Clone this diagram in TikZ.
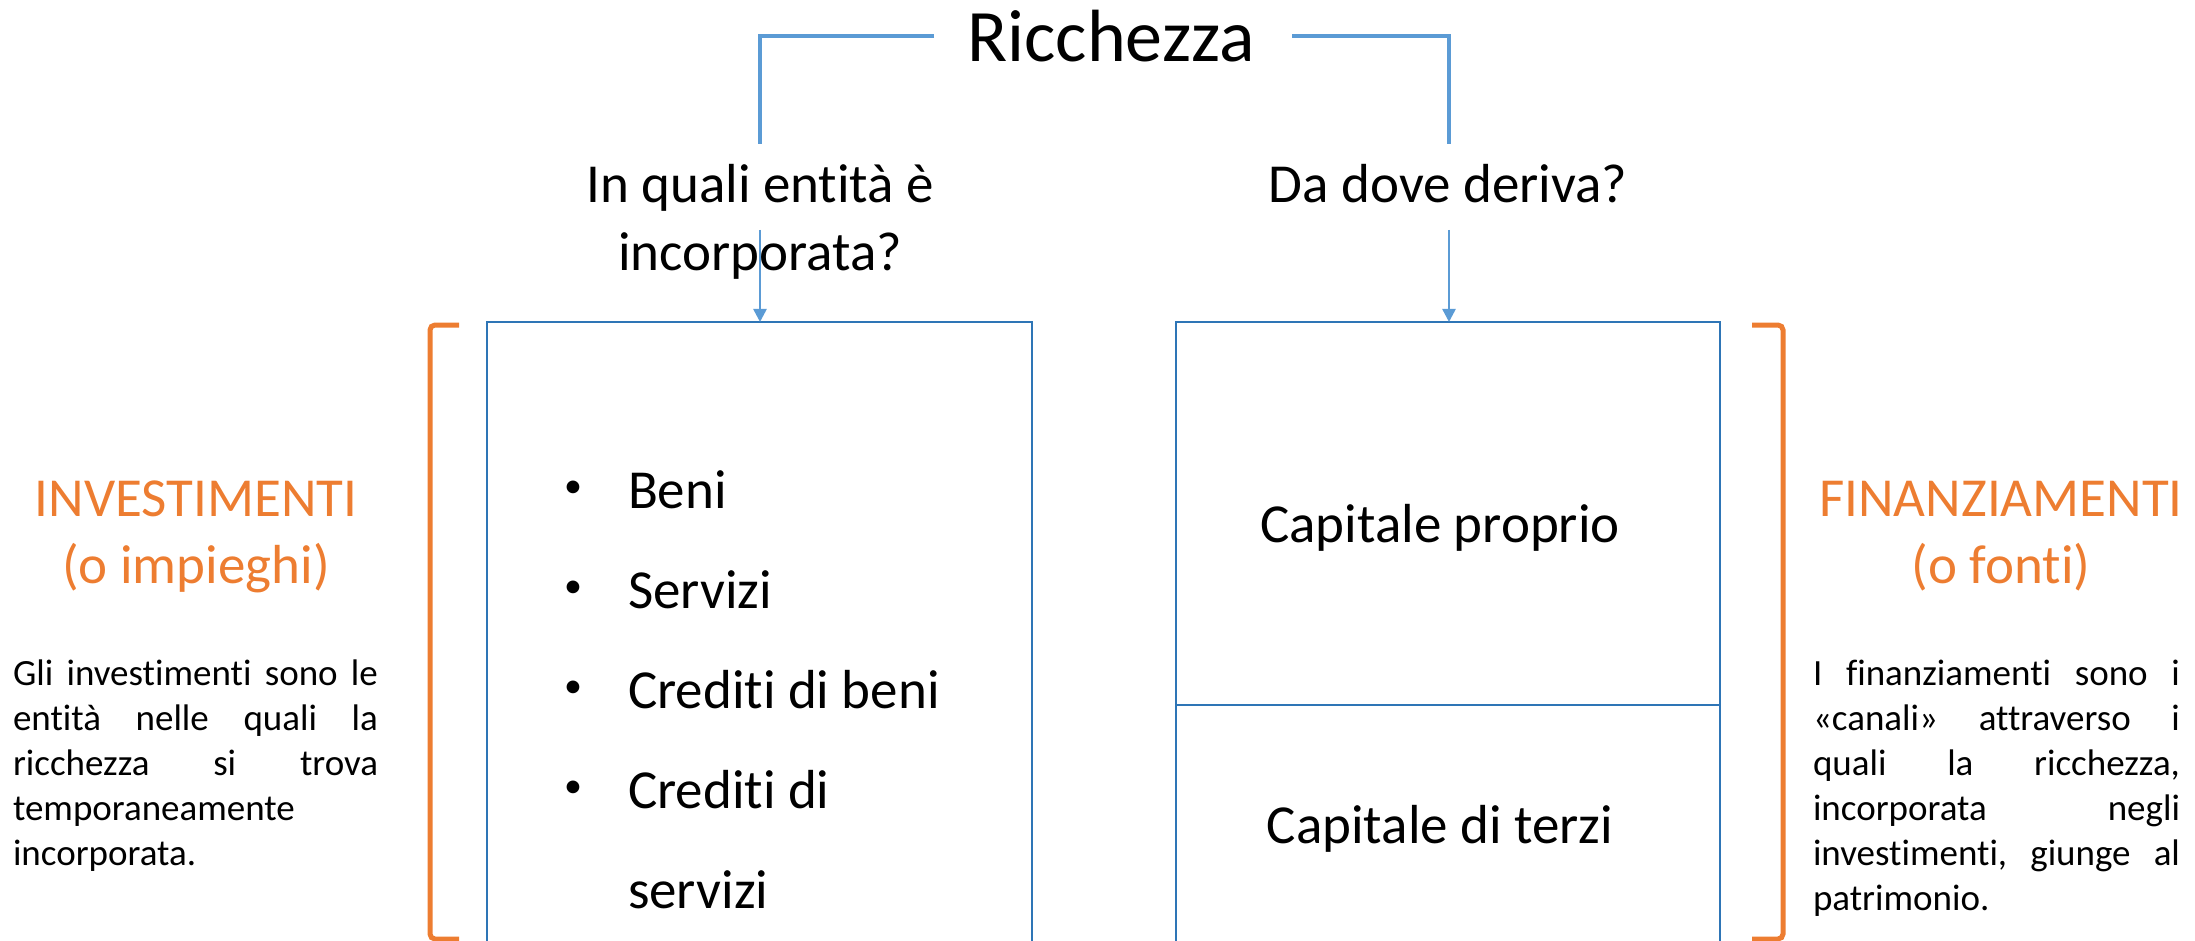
\documentclass[tikz,border=0pt]{standalone}
\usepackage{fontspec}
\setmainfont{Carlito}[Ligatures={NoCommon}]
\usetikzlibrary{arrows.meta}
\definecolor{connblue}{HTML}{5B9BD5}
\definecolor{boxblue}{HTML}{2E75B6}
\definecolor{brorange}{HTML}{ED7D31}
\newcommand\jgap{\hfill\ }
\newcommand\jline[2]{\leavevmode\hbox to #1{#2}}
\begin{document}
\begin{tikzpicture}[x=1pt,y=-1pt,
  txt/.style={inner sep=0pt,outer sep=0pt},
  bigfont/.style={font=\fontsize{74}{90}\selectfont},
  midfont/.style={font=\fontsize{55}{67}\selectfont},
  qfont/.style={font=\fontsize{55}{68}\selectfont},
  smallfont/.style={font=\fontsize{37}{45}\selectfont},
  bulletfont/.style={font=\fontsize{36}{40}\selectfont},
  conn/.style={draw=connblue,line width=4.5pt},
  arr/.style={draw=connblue,line width=2.5pt,-{Triangle[length=13pt,width=13pt]}},
  panel/.style={draw=boxblue,line width=2pt,inner sep=0pt,outer sep=0pt},
  bracket/.style={draw=brorange,line width=5pt,rounded corners=5pt},
  head/.style={txt,midfont,text=brorange,text width=420pt,align=flush center,anchor=base},
  bul/.style={txt,bulletfont,anchor=center}
]
\useasboundingbox (0,0) rectangle (2195,941);

% title and questions
\node[txt,bigfont,anchor=base] (ricc) at (1111,62) {Ricchezza};
\node[txt,qfont,anchor=base,text width=420pt,align=flush center] (q1) at (760,203) {In quali entità è\\incorporata?};
\node[txt,qfont,anchor=base] (q2) at (1448,203) {Da dove deriva?};

% boxes
\node[panel,minimum width=545pt,minimum height=700pt,anchor=north] (boxL) at (759.5,322) {};
\node[panel,minimum width=544pt,minimum height=383pt,anchor=north] (boxRt) at (1448,322) {};
\node[panel,minimum width=544pt,minimum height=320pt,anchor=north] (boxRb) at (1448,705) {};

% connectors
\coordinate (rL) at (934,36);
\coordinate (rR) at (1292,36);
\coordinate (q1in) at (760,144);
\coordinate (q2in) at (1449,144);
\coordinate (q1out) at (760,230);
\coordinate (q2out) at (1449,230);
\draw[conn] (rL) -| (q1in);
\draw[conn] (rR) -| (q2in);
\draw[arr] (q1out) -- (q1out |- boxL.north);
\draw[arr] (q2out) -- (q2out |- boxRt.north);

% list in left box
\node[bul] (b1) at (573,489) {•};
\node[txt,midfont,anchor=base west] (i1) at (628,508) {Beni};
\node[bul] (b2) at (573,589) {•};
\node[txt,midfont,anchor=base west] (i2) at (628,608) {Servizi};
\node[bul] (b3) at (573,689) {•};
\node[txt,midfont,anchor=base west] (i3) at (628,708) {Crediti di beni};
\node[bul] (b4) at (573,789) {•};
\node[txt,midfont,anchor=base west] (i4) at (628,808) {Crediti di};
\node[txt,midfont,anchor=base west] (i5) at (628,908) {servizi};

% right box texts
\node[txt,midfont,anchor=base] (cp) at (1440,542) {Capitale proprio};
\node[txt,midfont,anchor=base] (ct) at (1440,843) {Capitale di terzi};

% headings
\node[head] (inv) at (196,516) {INVESTIMENTI\\(o impieghi)};
\node[head] (fin) at (2001,516) {FINANZIAMENTI\\(o fonti)};

% paragraphs
\node[txt,smallfont,anchor=base west,text width=365pt,align=left] (pL) at (13,685)
 {\jline{365pt}{Gli\jgap investimenti\jgap sono\jgap le}\\
  \jline{365pt}{entità\jgap nelle\jgap quali\jgap la}\\
  \jline{365pt}{ricchezza\jgap si\jgap trova}\\
  temporaneamente\\
  incorporata.};
\node[txt,smallfont,anchor=base west,text width=367pt,align=left] (pR) at (1813,685)
 {\jline{367pt}{I\jgap finanziamenti\jgap sono\jgap i}\\
  \jline{367pt}{«canali»\jgap attraverso\jgap i}\\
  \jline{367pt}{quali\jgap la\jgap ricchezza,}\\
  \jline{367pt}{incorporata\jgap negli}\\
  \jline{367pt}{investimenti,\jgap giunge\jgap al}\\
  patrimonio.};

% brackets
\draw[bracket] (459,325) -- (430,325) -- (430,939) -- (459,939);
\draw[bracket] (1752,325) -- (1783,325) -- (1783,939) -- (1752,939);
\end{tikzpicture}
\end{document}
